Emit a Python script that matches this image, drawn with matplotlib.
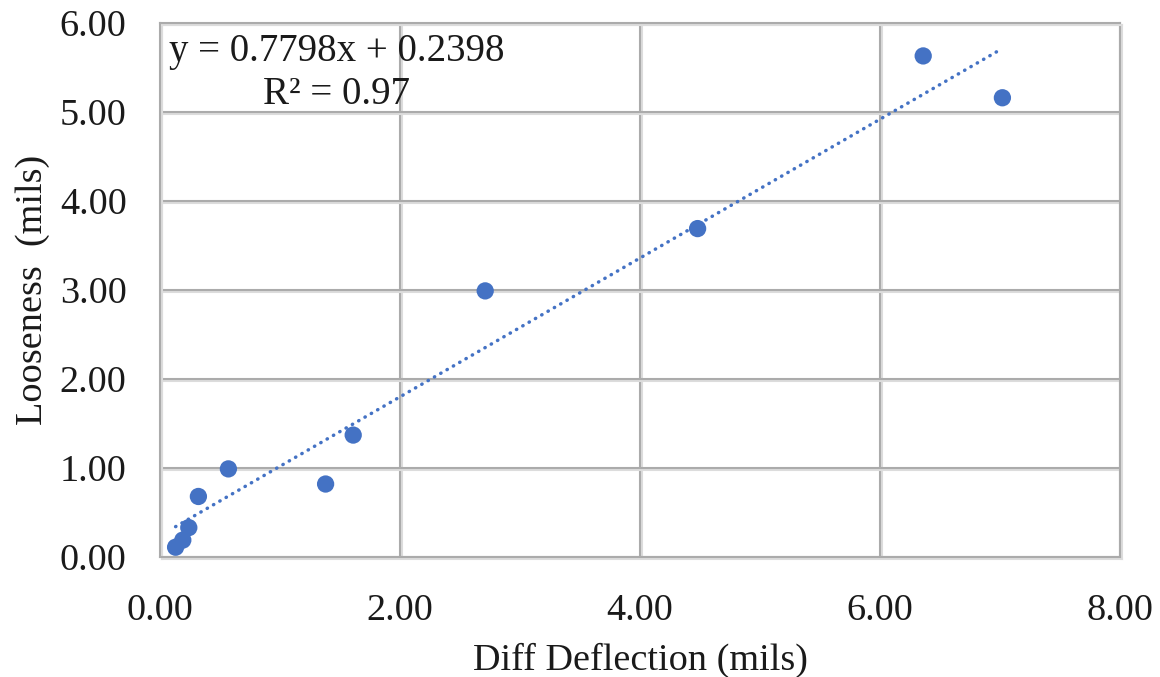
import matplotlib
matplotlib.use("Agg")
import matplotlib.pyplot as plt
import matplotlib.patheffects as pe
import numpy as np

diff_deflection = [0.13, 0.19, 0.24, 0.32, 0.57, 1.38, 1.61, 2.71, 4.48, 6.36, 7.02]
looseness = [0.11, 0.19, 0.33, 0.68, 0.99, 0.82, 1.37, 2.99, 3.69, 5.63, 5.16]
slope, intercept, r2 = 0.7798, 0.2398, 0.97

x_ticks = [0, 2, 4, 6, 8]
y_ticks = [0, 1, 2, 3, 4, 5, 6]

plt.rcParams['font.family'] = ['Liberation Serif', 'DejaVu Serif']

fig = plt.figure(figsize=(11.6, 6.77), dpi=100)
ax = fig.add_axes([160/1160, 1 - 557/677, 960/1160, 534/677])

shadow = [pe.SimpleLineShadow(offset=(1.2, -1.2), shadow_color='#dcdcdc', alpha=1), pe.Normal()]

ax.set_xlim(0, 8)
ax.set_ylim(0, 6)
ax.set_xticks(x_ticks)
ax.set_yticks(y_ticks)
ax.set_xticklabels(['%.2f' % v for v in x_ticks])
ax.set_yticklabels(['%.2f' % v for v in y_ticks])
ax.tick_params(length=0, labelsize=27.5, colors='#1a1a1a')
ax.tick_params(axis='x', pad=26)
ax.tick_params(axis='y', pad=24)

ax.grid(True, color='#ababab', linewidth=1.5, path_effects=shadow)
ax.set_axisbelow(True)
for s in ax.spines.values():
    s.set_color('#ababab')
    s.set_linewidth(1.5)
    s.set_path_effects(shadow)

# trendline across data range
xs = np.array([min(diff_deflection), max(diff_deflection)])
ax.plot(xs, slope * xs + intercept, color='#4472C4', linewidth=2.5,
        linestyle=(0, (0.1, 2.0)), dash_capstyle='round', zorder=3)

ax.scatter(diff_deflection, looseness, s=155, color='#4472C4', edgecolors='none', zorder=4)

ax.text(1.47, 5.44, 'y = %.4fx + %.4f\nR² = %.2f' % (slope, intercept, r2),
        ha='center', va='center', multialignment='center', fontsize=28,
        linespacing=1.22, color='#1a1a1a')

ax.set_xlabel('Diff Deflection (mils)', fontsize=27.5, labelpad=11, color='#1a1a1a')
ax.set_ylabel('Looseness  (mils)', fontsize=27.5, labelpad=7, color='#1a1a1a')

fig.savefig('out.png', dpi=100)
